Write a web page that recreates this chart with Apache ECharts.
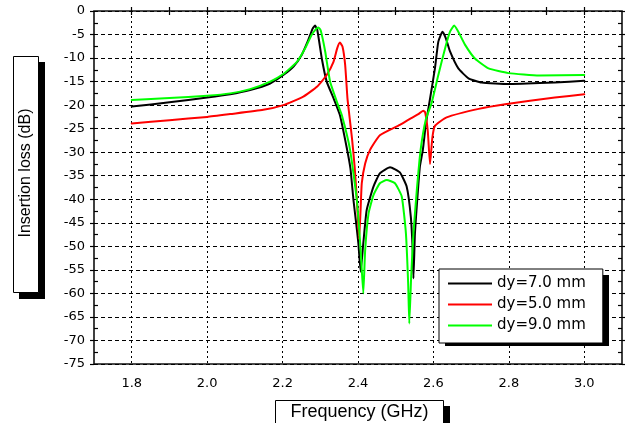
<!DOCTYPE html>
<html><head><meta charset="utf-8">
<script src="https://cdn.jsdelivr.net/npm/echarts@6.0.0/dist/echarts.min.js"></script>
<style>html,body{margin:0;padding:0;background:#fff}#c{width:625px;height:423px}</style>
</head><body><div id="c"></div>
<script>
// ---- data ----
const seriesNames = ['dy=7.0 mm', 'dy=5.0 mm', 'dy=9.0 mm'];
const seriesColors = ['#000000', '#ff0000', '#00ff00'];

const freq7 = [1.80, 1.90, 2.00, 2.061, 2.114, 2.167, 2.202, 2.229, 2.251, 2.268, 2.280, 2.286, 2.292, 2.304, 2.317, 2.335, 2.352, 2.370, 2.380, 2.388, 2.395, 2.401, 2.407, 2.414, 2.423, 2.441, 2.458, 2.485, 2.511, 2.529, 2.540, 2.545, 2.547, 2.551, 2.557, 2.564, 2.572, 2.580, 2.589, 2.604, 2.613, 2.624, 2.633, 2.644, 2.666, 2.693, 2.728, 2.799, 2.922, 3.000];
const loss7 = [-20.3, -19.4, -18.4, -17.7, -16.8, -15.4, -13.6, -11.8, -9.3, -6.2, -3.7, -3.1, -4.0, -10.1, -15.0, -18.5, -22.1, -29.0, -33.5, -40.2, -45.0, -49.4, -55.4, -49.4, -42.3, -37.3, -34.5, -33.2, -34.3, -37.3, -43.7, -50.8, -56.8, -47.2, -40.2, -33.1, -29.5, -24.0, -19.6, -12.2, -6.5, -4.4, -5.8, -8.6, -12.2, -14.3, -15.2, -15.5, -15.2, -14.8];

const freq5 = [1.80, 1.90, 2.00, 2.061, 2.149, 2.202, 2.255, 2.291, 2.317, 2.335, 2.345, 2.352, 2.359, 2.366, 2.372, 2.377, 2.384, 2.391, 2.397, 2.403, 2.407, 2.410, 2.419, 2.432, 2.458, 2.511, 2.540, 2.560, 2.573, 2.578, 2.585, 2.591, 2.597, 2.604, 2.635, 2.720, 2.790, 2.922, 3.000];
const loss5 = [-23.9, -23.2, -22.5, -21.9, -21.0, -20.0, -18.2, -16.1, -13.6, -10.8, -7.9, -6.7, -7.6, -11.5, -18.5, -22.1, -27.0, -33.0, -40.0, -48.5, -42.0, -36.6, -32.4, -29.5, -26.4, -24.2, -22.8, -21.9, -21.2, -21.5, -25.5, -32.5, -27.0, -24.4, -22.6, -20.8, -19.8, -18.4, -17.7];

const freq9 = [1.80, 1.90, 2.00, 2.061, 2.114, 2.167, 2.202, 2.238, 2.260, 2.277, 2.289, 2.295, 2.301, 2.313, 2.326, 2.344, 2.357, 2.379, 2.397, 2.407, 2.414, 2.419, 2.428, 2.441, 2.458, 2.476, 2.498, 2.516, 2.527, 2.533, 2.536, 2.541, 2.547, 2.556, 2.566, 2.580, 2.595, 2.613, 2.631, 2.644, 2.655, 2.666, 2.684, 2.710, 2.746, 2.799, 2.880, 3.000];
const loss9 = [-18.9, -18.5, -18.0, -17.5, -16.6, -15.0, -13.4, -10.8, -7.9, -5.1, -3.8, -3.5, -4.1, -8.6, -15.0, -19.3, -22.1, -29.5, -40.2, -50.8, -60.0, -50.8, -43.0, -39.1, -36.6, -35.9, -36.6, -39.4, -47.2, -57.9, -66.4, -56.4, -47.2, -38.0, -29.5, -23.0, -19.6, -13.6, -7.9, -4.4, -3.1, -4.4, -7.2, -10.1, -12.2, -13.2, -13.7, -13.6];

const xTickLabels = ['1.8', '2.0', '2.2', '2.4', '2.6', '2.8', '3.0'];
const xRange = [1.7, 3.1];
const yRange = [-75, 0];
const yStep = 5;

// ---- layout ----
const G = { left: 94, top: 11, right: 3, bottom: 59 };
const plotW = 625 - G.left - G.right;
const pxPerGHz = plotW / (xRange[1] - xRange[0]);
const tickMin = parseFloat(xTickLabels[0]);
const tickMax = parseFloat(xTickLabels[xTickLabels.length - 1]);
const tickStep = parseFloat(xTickLabels[1]) - tickMin;
const G2 = {
  left: G.left + (tickMin - xRange[0]) * pxPerGHz,
  right: G.right + (xRange[1] - tickMax) * pxPerGHz,
  top: G.top, bottom: G.bottom
};

const pairs = (fx, fy) => fx.map((f, i) => [f, fy[i]]);
const datasets = [pairs(freq7, loss7), pairs(freq5, loss5), pairs(freq9, loss9)];

const tickFont = { fontFamily: 'DejaVu Sans', fontSize: 13, color: '#000' };
const tickLine = { color: '#000', width: 1.2 };

const chart = echarts.init(document.getElementById('c'), null, { renderer: 'canvas' });
chart.setOption({
  animation: false,
  backgroundColor: '#fff',
  grid: [
    Object.assign({ show: true, borderColor: '#111', borderWidth: 1.6, backgroundColor: 'transparent' }, G),
    Object.assign({ show: false }, G2)
  ],
  xAxis: [
    { gridIndex: 0, type: 'value', min: xRange[0], max: xRange[1],
      axisLine: { show: false }, axisTick: { show: false }, axisLabel: { show: false }, splitLine: { show: false } },
    { gridIndex: 1, type: 'value', min: tickMin, max: tickMax, interval: tickStep, position: 'bottom',
      axisLine: { show: false },
      axisTick: { show: true, inside: false, length: 4, lineStyle: tickLine },
      minorTick: { show: true, splitNumber: 2, length: -4, lineStyle: tickLine },
      axisLabel: Object.assign({ margin: 13, formatter: v => v.toFixed(1) }, tickFont),
      splitLine: { show: true, lineStyle: { color: '#000', width: 1, type: [2, 3] } } },
    { gridIndex: 1, type: 'value', min: tickMin, max: tickMax, interval: tickStep, position: 'top',
      axisLine: { show: false },
      axisTick: { show: true, inside: false, length: 4, lineStyle: tickLine },
      minorTick: { show: true, splitNumber: 2, length: -4, lineStyle: tickLine },
      axisLabel: { show: false }, splitLine: { show: false } }
  ],
  yAxis: [
    { gridIndex: 0, type: 'value', min: yRange[0], max: yRange[1], interval: yStep, position: 'left',
      axisLine: { show: false },
      axisTick: { show: true, inside: false, length: 4, lineStyle: tickLine },
      minorTick: { show: true, splitNumber: 2, length: -4, lineStyle: tickLine },
      axisLabel: Object.assign({ margin: 9 }, tickFont),
      splitLine: { show: true, lineStyle: { color: '#000', width: 1, type: [4, 3] } } },
    { gridIndex: 0, type: 'value', min: yRange[0], max: yRange[1], interval: yStep, position: 'right',
      axisLine: { show: false },
      axisTick: { show: true, inside: false, length: 4, lineStyle: tickLine },
      minorTick: { show: true, splitNumber: 2, length: -4, lineStyle: tickLine },
      axisLabel: { show: false }, splitLine: { show: false } },
    { gridIndex: 1, type: 'value', min: yRange[0], max: yRange[1], show: false }
  ],
  legend: {
    orient: 'vertical', left: 439, top: 269,
    padding: [7, 17, 10, 9], itemGap: 6, itemWidth: 44, itemHeight: 2,
    icon: 'rect',
    backgroundColor: '#fff', borderColor: '#000', borderWidth: 1, borderRadius: 0,
    textStyle: { fontFamily: 'DejaVu Sans', fontSize: 15, color: '#000', lineHeight: 14 },
    data: seriesNames, z: 5
  },
  graphic: [
    // legend shadow
    { type: 'rect', z: 4, shape: { x: 445, y: 275, width: 164, height: 71 }, style: { fill: '#000' } },
    // y title box
    { type: 'rect', z: 5, shape: { x: 19, y: 62, width: 26, height: 237 }, style: { fill: '#000' } },
    { type: 'rect', z: 6, shape: { x: 13.5, y: 56.5, width: 25, height: 236 }, style: { fill: '#fff', stroke: '#000', lineWidth: 1 } },
    { type: 'text', z: 7, x: 26, y: 173, rotation: Math.PI / 2,
      style: { text: 'Insertion loss (dB)', font: '16px "Liberation Sans"', fill: '#000', textAlign: 'center', textVerticalAlign: 'middle' } },
    // x title box
    { type: 'rect', z: 5, shape: { x: 281, y: 406, width: 169, height: 28 }, style: { fill: '#000' } },
    { type: 'rect', z: 6, shape: { x: 275.5, y: 400.5, width: 168, height: 28 }, style: { fill: '#fff', stroke: '#000', lineWidth: 1 } },
    { type: 'text', z: 7, x: 359.5, y: 412.5,
      style: { text: 'Frequency (GHz)', font: '18px "Liberation Sans"', fill: '#000', textAlign: 'center', textVerticalAlign: 'middle' } }
  ],
  series: seriesNames.map((name, i) => ({
    name, type: 'line', xAxisIndex: 0, yAxisIndex: 0,
    data: datasets[i], symbol: 'none', smooth: 0.15,
    lineStyle: { color: seriesColors[i], width: 2, join: 'round', cap: 'round' },
    itemStyle: { color: seriesColors[i] },
    z: 2 + i * 0.1
  }))
});
</script>
</body></html>
